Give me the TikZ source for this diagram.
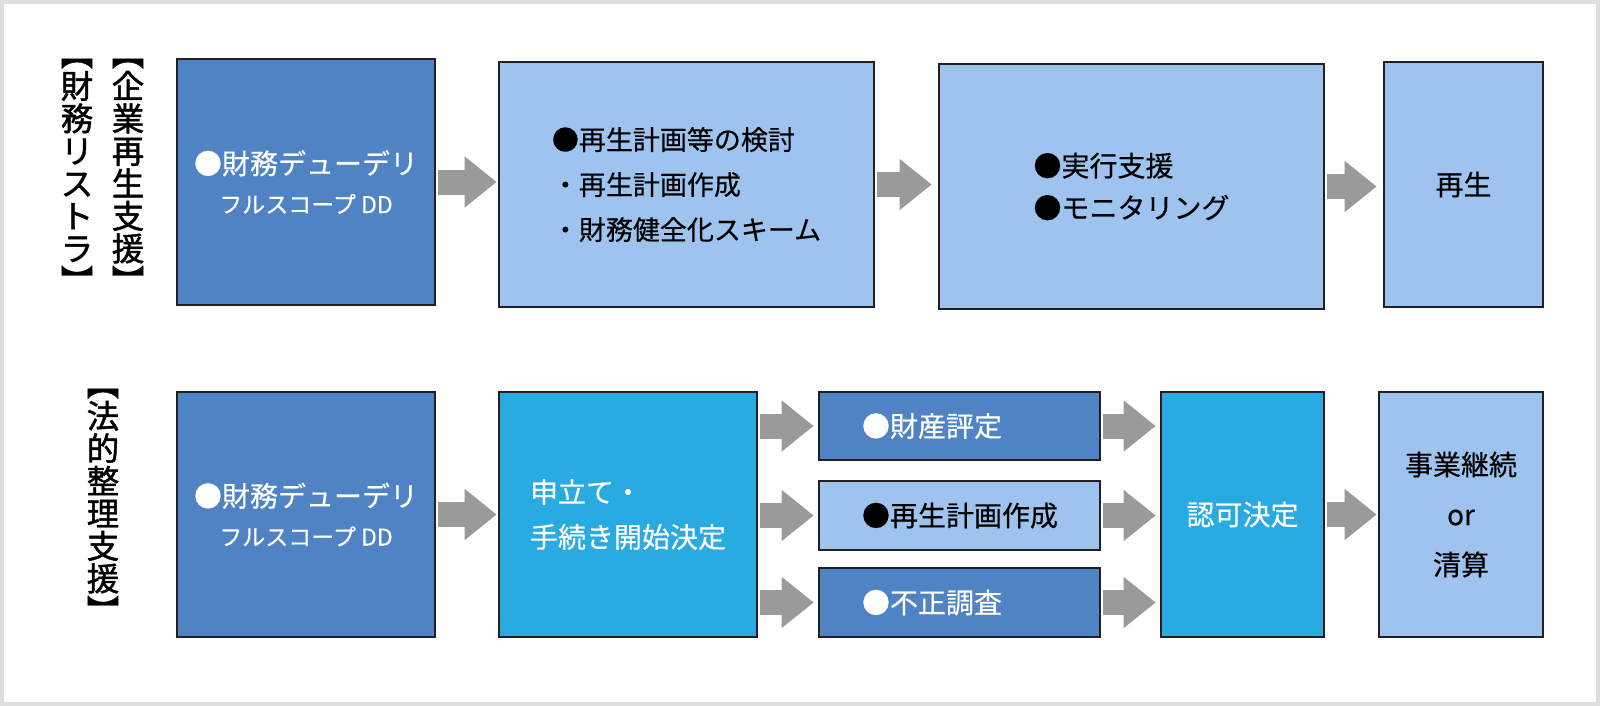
\documentclass[tikz,border=0pt]{standalone}
\usepackage{fontspec}
\setmainfont{Noto Sans CJK JP}[FakeBold=0.4]
\newfontfamily\lblfont{Noto Sans CJK JP}[FakeBold=1.4]
\usetikzlibrary{arrows.meta,calc}
\definecolor{dblue}{HTML}{4F83C4}
\definecolor{lblue}{HTML}{9DC3EE}
\definecolor{cyanb}{HTML}{29ABE2}
\definecolor{agray}{HTML}{9A9A9A}
\definecolor{framegray}{HTML}{DEDEDE}
\definecolor{edge}{HTML}{231F20}
\begin{document}
\begin{tikzpicture}[x=1pt,y=-1pt,
  box/.style={draw=edge, line width=2.6pt, rectangle, inner sep=0pt},
  darkbox/.style={box, fill=dblue, text=white},
  lightbox/.style={box, fill=lblue, text=black},
  cyanbox/.style={box, fill=cyanb, text=white},
  flow/.style={draw=agray, line width=25pt, shorten <=1.3pt, -{Triangle[length=32pt,width=49pt]}},
  vlabel/.style={font=\lblfont\fontsize{32.5}{32.5}\selectfont, align=center, inner sep=0pt}
]
\useasboundingbox (0,0) rectangle (1600,706);
\draw[framegray, line width=4pt] (2,2) rectangle (1598,704);

% vertical labels
\node[vlabel] (l1) at (128,176) {︻\\企\\業\\再\\生\\支\\援\\︼};
\node[vlabel] (l2) at (77,176) {︻\\財\\務\\リ\\ス\\ト\\ラ\\︼};
\node[vlabel] (l3) at (103,506) {︻\\法\\的\\整\\理\\支\\援\\︼};

% top row
\node[darkbox, minimum width=258pt, minimum height=246pt, align=center,
  font=\fontsize{28}{39}\selectfont] (b1) at (306,182)
  {●財務デューデリ\\{\fontsize{23}{39}\selectfont フルスコープ DD}};
\node[lightbox, minimum width=375pt, minimum height=245pt, align=left,
  font=\fontsize{27}{45}\selectfont] (b2) at (686.5,184.5)
  {●再生計画等の検討\\・再生計画作成\\・財務健全化スキーム};
\node[lightbox, minimum width=385pt, minimum height=245pt, align=left,
  font=\fontsize{28}{42}\selectfont] (b3) at (1131.5,186.5)
  {●実行支援\\●モニタリング};
\node[lightbox, minimum width=159pt, minimum height=245pt,
  font=\fontsize{28}{42}\selectfont] (b4) at (1463.5,184.5) {再生};

% bottom row
\node[darkbox, minimum width=258pt, minimum height=245pt, align=center,
  font=\fontsize{28}{39}\selectfont] (b5) at (306,514.5)
  {●財務デューデリ\\{\fontsize{23}{39}\selectfont フルスコープ DD}};
\node[cyanbox, minimum width=258pt, minimum height=245pt, align=left,
  font=\fontsize{28}{45}\selectfont] (b6) at (628,514.5)
  {申立て・\\手続き開始決定};
\node[darkbox, minimum width=281pt, minimum height=68pt, align=left, text width=195pt,
  font=\fontsize{28}{40}\selectfont] (b7) at (959.5,426) {●財産評定};
\node[lightbox, minimum width=281pt, minimum height=69pt, align=left, text width=195pt,
  font=\fontsize{28}{40}\selectfont] (b8) at (959.5,515.5) {●再生計画作成};
\node[darkbox, minimum width=281pt, minimum height=69pt, align=left, text width=195pt,
  font=\fontsize{28}{40}\selectfont] (b9) at (959.5,602.5) {●不正調査};
\node[cyanbox, minimum width=163pt, minimum height=245pt,
  font=\fontsize{28}{40}\selectfont] (b10) at (1242.5,514.5) {認可決定};
\node[lightbox, minimum width=164pt, minimum height=245pt, align=center,
  font=\fontsize{28}{50}\selectfont] (b11) at (1461,514.5) {事業継続\\or\\清算};

% connectors
\draw[flow, shorten >=1pt] (b1.east) -- (b1.east -| b2.west);
\draw[flow, shorten >=6pt] (b2.east) -- (b2.east -| b3.west);
\draw[flow, shorten >=6pt] (b3.east) -- (b3.east -| b4.west);
\draw[flow, shorten >=1pt] (b5.east) -- (b5.east -| b6.west);
\foreach \n in {b7,b8,b9}{
  \draw[flow, shorten >=4pt] (b6.east |- \n.west) -- (\n.west);
  \draw[flow, shorten >=4pt] (\n.east) -- (\n.east -| b10.west);
}
\draw[flow, shorten >=1pt] (b10.east) -- (b10.east -| b11.west);
\end{tikzpicture}
\end{document}
